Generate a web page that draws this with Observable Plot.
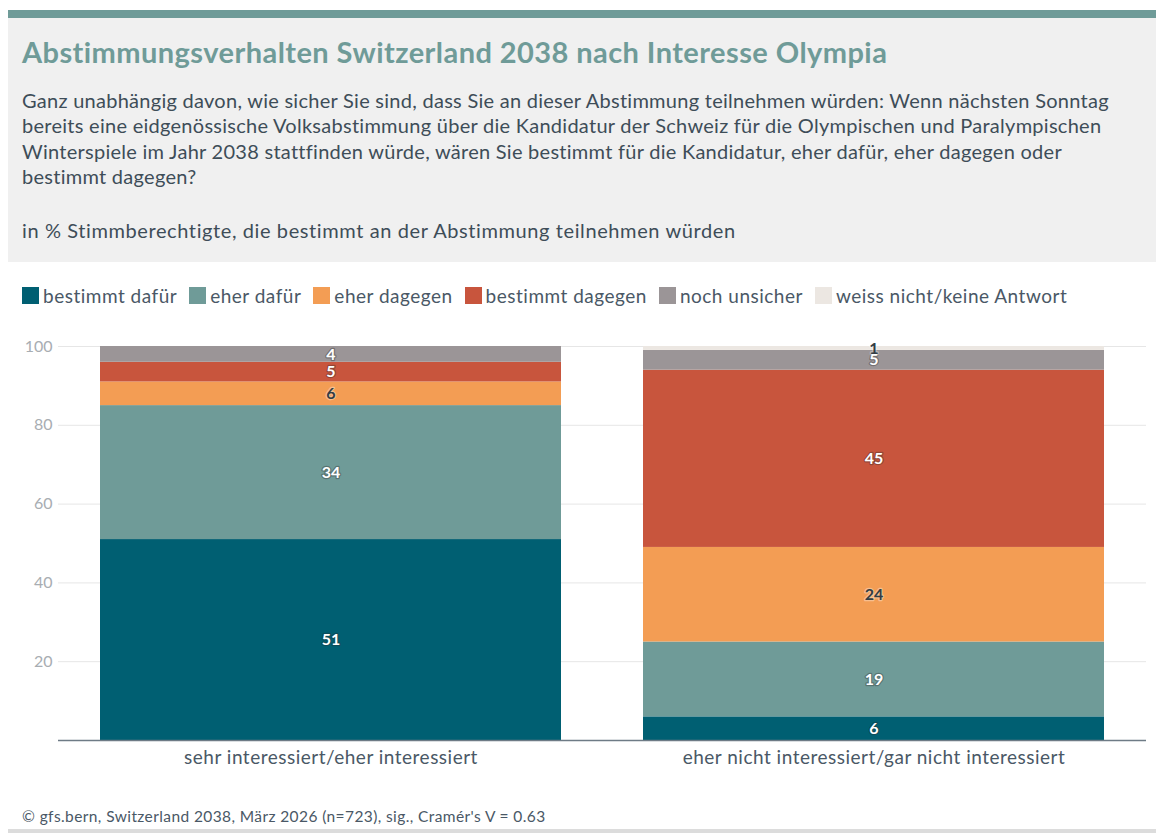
<!DOCTYPE html>
<html>
<head>
<meta charset="utf-8">
<script src="https://cdn.jsdelivr.net/npm/d3@7"></script>
<script src="https://cdn.jsdelivr.net/npm/@observablehq/plot@0.6"></script>
<style>
  html, body { margin: 0; padding: 0; background: #fff; }
  body { width: 1156px; height: 833px; position: relative; overflow: hidden; font-family: Lato, "Noto Sans", sans-serif; }
  #header { position: absolute; left: 8px; top: 10px; width: 1148px; height: 244px; background: #f0f0f0; border-top: 8px solid #6f9b98; }
  #title { position: absolute; left: 14px; top: 16px; font-size: 29px; letter-spacing: 0.43px; font-weight: bold; color: #6f9b98; white-space: nowrap; }
  #subtitle { position: absolute; left: 14px; top: 70px; font-size: 20px; letter-spacing: 0.27px; line-height: 25.3px; color: #3e4d58; white-space: nowrap; }
  #unit { position: absolute; left: 14px; top: 200px; font-size: 20px; letter-spacing: 0.6px; color: #3e4d58; white-space: nowrap; }
  #legend { position: absolute; left: 22px; top: 284px; display: flex; font-size: 19px; letter-spacing: 0.5px; color: #4a5866; white-space: nowrap; }
  .item { display: flex; align-items: center; margin-right: 12px; }
  .sw { width: 17px; height: 17px; margin-right: 4px; }
  #chart { position: absolute; left: 0; top: 330px; }
  #chart g[aria-label="x-axis tick label"] text { letter-spacing: 0.5px; }
  #caption { position: absolute; left: 22px; top: 807px; font-size: 15.5px; letter-spacing: 0.4px; color: #4a5866; white-space: nowrap; }
  #bottomline { position: absolute; left: 8px; top: 829px; width: 1148px; height: 4px; background: #dcdcdc; }
</style>
</head>
<body>
<div id="header">
  <div id="title">Abstimmungsverhalten Switzerland 2038 nach Interesse Olympia</div>
  <div id="subtitle">Ganz unabhängig davon, wie sicher Sie sind, dass Sie an dieser Abstimmung teilnehmen würden: Wenn nächsten Sonntag<br>bereits eine eidgenössische Volksabstimmung über die Kandidatur der Schweiz für die Olympischen und Paralympischen<br>Winterspiele im Jahr 2038 stattfinden würde, wären Sie bestimmt für die Kandidatur, eher dafür, eher dagegen oder<br>bestimmt dagegen?</div>
  <div id="unit">in % Stimmberechtigte, die bestimmt an der Abstimmung teilnehmen würden</div>
</div>
<div id="legend"></div>
<div id="chart"></div>
<div id="caption">© gfs.bern, Switzerland 2038, März 2026 (n=723), sig., Cramér's V = 0.63</div>
<div id="bottomline"></div>
<script>
const groups = ["sehr interessiert/eher interessiert", "eher nicht interessiert/gar nicht interessiert"];
const categories = ["bestimmt dafür", "eher dafür", "eher dagegen", "bestimmt dagegen", "noch unsicher", "weiss nicht/keine Antwort"];
const valuesInteressiert = [51, 34, 6, 5, 4, 0];
const valuesNichtInteressiert = [6, 19, 24, 45, 5, 1];
const colors = ["#005f72", "#6f9b98", "#f39d54", "#c8553d", "#9b9597", "#ece7e2"];
const darkLabelCategories = ["eher dagegen", "weiss nicht/keine Antwort"];
const yTicks = [20, 40, 60, 80, 100];

const seriesByGroup = [valuesInteressiert, valuesNichtInteressiert];
const data = [];
groups.forEach((g, gi) => {
  categories.forEach((c, ci) => {
    data.push({group: g, category: c, value: seriesByGroup[gi][ci]});
  });
});

// legend
const legend = document.getElementById("legend");
categories.forEach((c, i) => {
  const item = document.createElement("div");
  item.className = "item";
  item.innerHTML = `<div class="sw" style="background:${colors[i]}"></div><span>${c}</span>`;
  legend.appendChild(item);
});

const isDark = d => darkLabelCategories.includes(d.category);

const chart = Plot.plot({
  width: 1156,
  height: 450,
  marginLeft: 58,
  marginRight: 10,
  marginTop: 16,
  marginBottom: 40,
  style: {fontFamily: "Lato, 'Noto Sans', sans-serif", background: "transparent"},
  x: {domain: groups, paddingInner: 0.151, paddingOuter: 0.077, label: null},
  y: {domain: [0, 100], label: null},
  color: {domain: categories, range: colors},
  marks: [
    Plot.gridY(yTicks, {stroke: "#e6e6e6", strokeOpacity: 1}),
    Plot.axisY(yTicks, {tickSize: 0, tickPadding: 6, fontSize: 16, fill: "#a8adb2", label: null}),
    Plot.barY(data, Plot.stackY({x: "group", y: "value", fill: "category"})),
    Plot.ruleY([0], {stroke: "#6e7b86", strokeWidth: 1.5}),
    Plot.axisX({tickSize: 0, tickPadding: 10, fontSize: 19, fill: "#4a5866", label: null}),
    Plot.text(data, Plot.stackY({
      x: "group", y: "value",
      text: d => d.value > 0 ? String(d.value) : "",
      fill: d => isDark(d) ? "#333d45" : "#ffffff",
      stroke: d => isDark(d) ? "#ffffff" : "#2a2a2a",
      strokeOpacity: 0.35,
      strokeWidth: 2.5,
      fontSize: 16,
      fontWeight: "bold"
    }))
  ]
});
document.getElementById("chart").appendChild(chart);
</script>
</body>
</html>
